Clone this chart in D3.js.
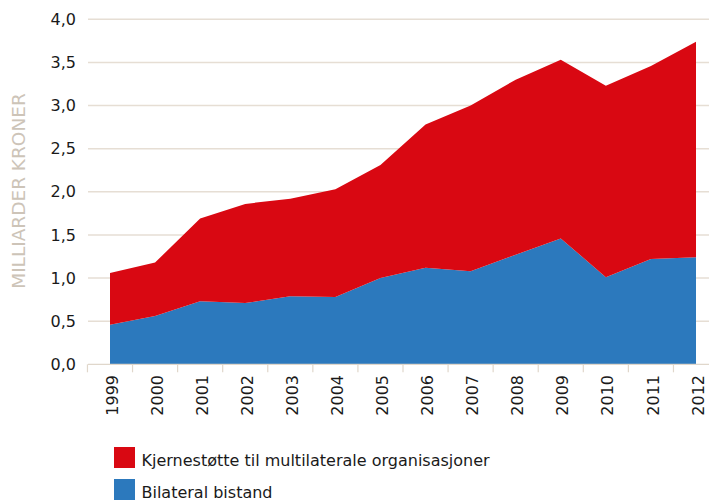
<!DOCTYPE html>
<html><head><meta charset="utf-8">
<script src="https://cdn.jsdelivr.net/npm/d3@7"></script>
<style>
html,body{margin:0;padding:0;background:#fff;}
svg{display:block;}
</style></head>
<body>
<svg id="chart" width="709" height="500"></svg>
<script>
const years = ["1999","2000","2001","2002","2003","2004","2005","2006","2007","2008","2009","2010","2011","2012"];
const bilateral = [0.46,0.56,0.73,0.71,0.79,0.78,1.00,1.12,1.08,1.27,1.46,1.01,1.22,1.24];
const kjernestotte = [0.60,0.62,0.96,1.15,1.13,1.25,1.31,1.66,1.92,2.03,2.07,2.22,2.24,2.50];
const yTicks = [0,0.5,1,1.5,2,2.5,3,3.5,4];
const seriesNames = ["Kjernestøtte til multilaterale organisasjoner","Bilateral bistand"];
const yTitle = "MILLIARDER KRONER";

const colors = {bil:"#2c79bd", kj:"#d90812"};
const font = "'DejaVu Sans', sans-serif";

const svg = d3.select("#chart");
const x = d3.scalePoint().domain(years).range([110,696]);
const y = d3.scaleLinear().domain([0,4]).range([364.3,19.3]);
const step = x.step();

// gridlines
svg.append("g").selectAll("line").data(yTicks.filter(d=>d>0)).join("line")
  .attr("x1",88).attr("x2",709)
  .attr("y1",d=>y(d)).attr("y2",d=>y(d))
  .attr("stroke","#e6ded4").attr("stroke-width",1.5);

// stacked areas
const table = years.map((yr,i)=>({year:yr, bil:bilateral[i], kj:kjernestotte[i]}));
const stack = d3.stack().keys(["bil","kj"])(table);
const area = d3.area()
  .x(d=>x(d.data.year))
  .y0(d=>y(d[0]))
  .y1(d=>y(d[1]));
svg.append("g").selectAll("path").data(stack).join("path")
  .attr("d",area)
  .attr("fill",d=>colors[d.key]);

// y axis labels
svg.append("g").selectAll("text").data(yTicks).join("text")
  .attr("x",76).attr("y",d=>y(d)).attr("dy","0.35em")
  .attr("text-anchor","end")
  .attr("font-family",font).attr("font-size",16).attr("fill","#1a1a1a")
  .text(d=>d3.format(".1f")(d).replace(".",","));

// x axis baseline and ticks
svg.append("line").attr("x1",88).attr("x2",709).attr("y1",y(0)).attr("y2",y(0))
  .attr("stroke","#e0d7cb").attr("stroke-width",1.2);
const bounds = years.map(yr=>x(yr)-step/2);
svg.append("g").selectAll("line").data(bounds).join("line")
  .attr("x1",d=>d).attr("x2",d=>d)
  .attr("y1",y(0)).attr("y2",y(0)+8)
  .attr("stroke","#e0d7cb").attr("stroke-width",1.2);

// x labels rotated
svg.append("g").selectAll("text").data(years).join("text")
  .attr("transform",d=>`translate(${x(d)+2},375) rotate(-90)`)
  .attr("dy","0.35em")
  .attr("text-anchor","end")
  .attr("font-family",font).attr("font-size",16).attr("fill","#1a1a1a")
  .text(d=>d);

// y title
svg.append("text")
  .attr("transform","translate(19,191) rotate(-90)")
  .attr("dy","0.35em")
  .attr("text-anchor","middle")
  .attr("font-family",font).attr("font-size",18.5).attr("fill","#cdc4b8")
  .text(yTitle);

// legend
const legend = [{name:seriesNames[0], color:colors.kj, y:447},{name:seriesNames[1], color:colors.bil, y:479}];
const lg = svg.append("g").selectAll("g").data(legend).join("g");
lg.append("rect").attr("x",114).attr("y",d=>d.y).attr("width",21).attr("height",21).attr("fill",d=>d.color);
lg.append("text").attr("x",141.5).attr("y",d=>d.y+18.5)
  .attr("font-family",font).attr("font-size",16).attr("fill","#1a1a1a")
  .text(d=>d.name);
</script>
</body></html>
